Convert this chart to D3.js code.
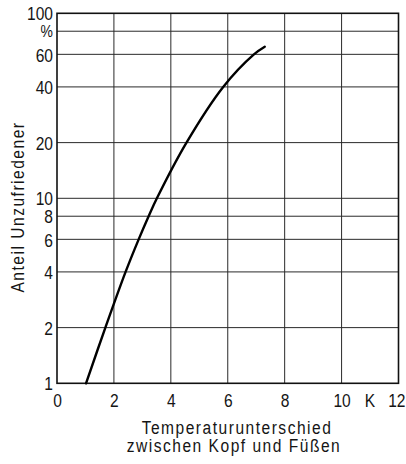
<!DOCTYPE html>
<html>
<head>
<meta charset="utf-8">
<script src="https://cdn.jsdelivr.net/npm/d3@7/dist/d3.min.js"></script>
<style>
  html, body { margin: 0; padding: 0; background: #fff; }
  svg { display: block; }
  text { font-family: "Liberation Sans", Arial, sans-serif; fill: #151515; }
</style>
</head>
<body>
<svg id="chart" width="406" height="464"></svg>
<script>
// Temperature difference head–feet (K) vs. share of dissatisfied people (%)
const xTickValues = [0, 2, 4, 6, 8, 10, 12];
const xGridValues = [2, 4, 6, 8, 10];
const yGridValues = [2, 4, 6, 8, 10, 20, 40, 60, 80];
const yTickValues = [1, 2, 4, 6, 8, 10, 20, 40, 60, 100];
const yTickLabels = ["1", "2", "4", "6", "8", "10", "20", "40", "60", "100"];
const percentAt = 80;
const unitAt = 11;

const tempDiff = [1.02, 1.70, 2.41, 2.87, 3.22, 3.51, 4.55, 5.84, 6.92, 7.30];
const dissatisfied = [1, 2, 4, 6, 8, 10, 20, 40, 60, 66];

const xTitleLines = ["Temperaturunterschied", "zwischen Kopf und Füßen"];
const yTitle = "Anteil Unzufriedener";

// narrow lettering: regular sans compressed horizontally
const NARROW = 0.82;
const FS = 19;
const SPACING = 1.5 / NARROW;

const svg = d3.select("#chart");

const x = d3.scaleLinear().domain([0, 12]).range([57, 398.5]);
const y = d3.scaleLog().domain([1, 100]).range([383.3, 13.3]);

const [x0, x1] = x.range();
const [yb, yt] = y.range();

// grid
const grid = svg.append("g").attr("stroke", "#2a2a2a").attr("stroke-width", 1);
grid.selectAll("line.h").data(yGridValues).join("line")
  .attr("class", "h")
  .attr("x1", x0).attr("x2", x1)
  .attr("y1", d => y(d)).attr("y2", d => y(d));
grid.selectAll("line.v").data(xGridValues).join("line")
  .attr("class", "v")
  .attr("y1", yt).attr("y2", yb)
  .attr("x1", d => x(d)).attr("x2", d => x(d));

// frame
svg.append("rect")
  .attr("x", x0).attr("y", yt)
  .attr("width", x1 - x0).attr("height", yb - yt)
  .attr("fill", "none").attr("stroke", "#111").attr("stroke-width", 1.6);

// x axis labels
const xAxis = d3.axisBottom(x).tickValues(xTickValues).tickSize(0).tickPadding(0)
  .tickFormat(d3.format("d"));
const gx = svg.append("g").attr("transform", `translate(0,${yb})`).call(xAxis);
gx.select(".domain").remove();
gx.selectAll("text")
  .attr("font-size", FS).attr("y", 24).attr("dy", 0)
  .style("font-family", null).attr("fill", "#151515")
  .attr("transform", `scale(${NARROW},1)`);
// last label kept inside the frame edge
gx.selectAll(".tick").filter(d => d === 12).select("text")
  .attr("text-anchor", "end").attr("x", 6.5 / NARROW);

function narrowText(px, py, anchor, size, str, rot, spacing) {
  return svg.append("text")
    .attr("transform", `translate(${px},${py})${rot ? " rotate(" + rot + ")" : ""} scale(${NARROW},1)`)
    .attr("text-anchor", anchor).attr("font-size", size)
    .attr("letter-spacing", spacing || 0)
    .text(str);
}

narrowText(x(unitAt), yb + 24, "middle", FS, "K");

// y axis labels
const yAxis = d3.axisLeft(y).tickValues(yTickValues).tickSize(0).tickPadding(0)
  .tickFormat((d, i) => yTickLabels[i]);
const gy = svg.append("g").attr("transform", `translate(${x0 - 4},0)`).call(yAxis);
gy.select(".domain").remove();
gy.selectAll("text")
  .attr("font-size", FS).attr("dy", "0.35em")
  .style("font-family", null).attr("fill", "#151515")
  .attr("transform", `scale(${NARROW},1)`);
narrowText(x0 - 4, y(percentAt) + 6, "end", 17, "%");

// curve
const line = d3.line()
  .x((d, i) => x(tempDiff[i]))
  .y(d => y(d))
  .curve(d3.curveCatmullRom.alpha(0.5));
svg.append("path")
  .datum(dissatisfied)
  .attr("d", line)
  .attr("fill", "none").attr("stroke", "#000")
  .attr("stroke-width", 2.4).attr("stroke-linecap", "round");

// axis titles
narrowText(237, 434, "middle", FS, xTitleLines[0], 0, SPACING);
narrowText(234, 451.5, "middle", FS, xTitleLines[1], 0, SPACING);
narrowText(24, 207, "middle", FS, yTitle, -90, SPACING);
</script>
</body>
</html>
